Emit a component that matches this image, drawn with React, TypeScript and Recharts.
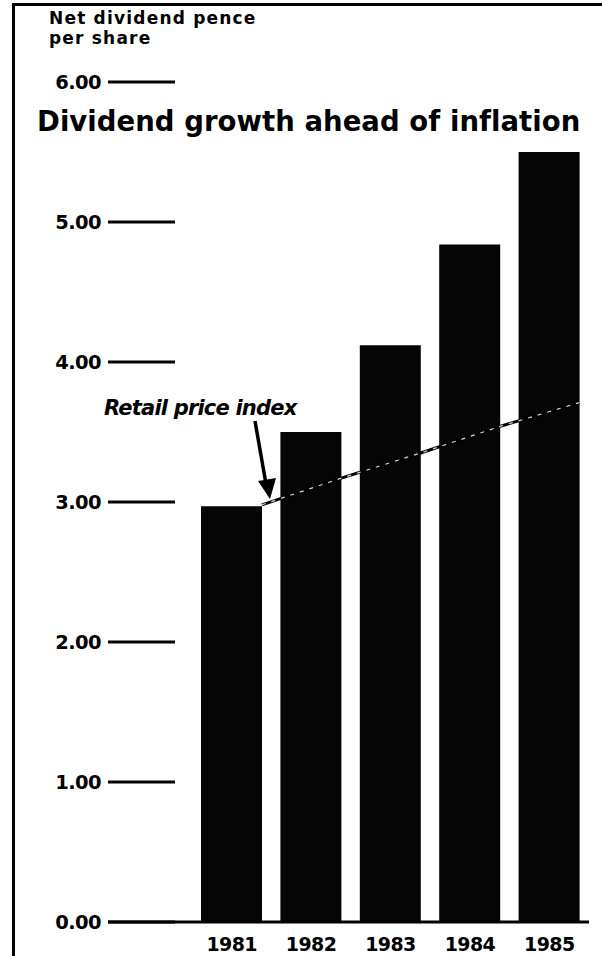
import { ComposedChart, Bar, Line, XAxis, YAxis } from "recharts";

// values (pence per share)
const years = ["1981", "1982", "1983", "1984", "1985"];
const dividend = [2.97, 3.5, 4.12, 4.84, 5.5];

// retail price index line, rebased to the 1981 dividend, read at each bar's right edge
const rpiYear = [1981.38, 1982.38, 1983.38, 1984.38, 1985.38];
const rpi = [2.98, 3.17, 3.35, 3.54, 3.71];

const yTicks = [0, 1, 2, 3, 4, 5, 6];

const FONT = "'DejaVu Sans', 'Liberation Sans', Arial, sans-serif";

const barData = years.map((year, i) => ({ year, dividend: dividend[i] }));
const rpiData = rpiYear.map((x, i) => ({ x, rpi: rpi[i] }));

function YTick({ x, y, payload }: any) {
  return (
    <g>
      <text
        x={x - 7}
        y={y}
        dy={7}
        textAnchor="end"
        fontFamily={FONT}
        fontWeight={700}
        fontSize={19.5}
        letterSpacing={-0.6}
        fill="#000"
      >
        {Number(payload.value).toFixed(2)}
      </text>
      <line x1={x} x2={x + 67} y1={y} y2={y} stroke="#000" strokeWidth={3} />
    </g>
  );
}

function YearTick({ x, y, payload }: any) {
  return (
    <text
      x={x}
      y={y + 29}
      textAnchor="middle"
      fontFamily={FONT}
      fontWeight={700}
      fontSize={19}
      letterSpacing={-0.6}
      fill="#000"
    >
      {payload.value}
    </text>
  );
}

export default function App() {
  return (
    <div
      style={{
        position: "absolute",
        left: 0,
        top: 0,
        width: 602,
        height: 956,
        background: "#fff",
        overflow: "hidden",
      }}
    >
      <ComposedChart
        width={602}
        height={956}
        data={barData}
        margin={{ top: 82, right: 13, bottom: 0, left: 0 }}
      >
        <XAxis
          dataKey="year"
          height={34}
          padding={{ left: 84, right: 0 }}
          axisLine={{ stroke: "#000", strokeWidth: 3 }}
          tickLine={false}
          tickSize={0}
          tickMargin={0}
          tick={<YearTick />}
          interval={0}
        />
        <XAxis
          xAxisId="rpi"
          type="number"
          dataKey="x"
          domain={[1980.5, 1985.5]}
          padding={{ left: 84, right: 0 }}
          hide
        />
        <YAxis
          width={108}
          domain={[0, 6]}
          ticks={yTicks}
          axisLine={false}
          tickLine={false}
          tickSize={0}
          tickMargin={0}
          tick={<YTick />}
          interval={0}
        />
        <Bar dataKey="dividend" fill="#050505" barSize={61} isAnimationActive={false} />
        <Line
          xAxisId="rpi"
          data={rpiData}
          dataKey="rpi"
          type="linear"
          stroke="#000"
          strokeWidth={3}
          dot={false}
          activeDot={false}
          isAnimationActive={false}
        />
        <Line
          xAxisId="rpi"
          data={rpiData}
          dataKey="rpi"
          type="linear"
          stroke="#d8d8d8"
          strokeWidth={1.2}
          strokeDasharray="4 6"
          dot={false}
          activeDot={false}
          isAnimationActive={false}
        />
      </ComposedChart>

      {/* frame of the printed panel */}
      <div
        style={{
          position: "absolute",
          left: 12,
          top: 3,
          right: 0,
          bottom: 0,
          borderLeft: "3px solid #000",
          borderTop: "3px solid #000",
          pointerEvents: "none",
        }}
      />

      <div
        style={{
          position: "absolute",
          left: 49,
          top: 8,
          fontFamily: FONT,
          fontWeight: 700,
          fontSize: 17,
          lineHeight: "20px",
          letterSpacing: 1.2,
          color: "#000",
          whiteSpace: "nowrap",
        }}
      >
        Net dividend pence
        <br />
        per share
      </div>

      <div
        style={{
          position: "absolute",
          left: 37,
          top: 104,
          fontFamily: FONT,
          fontWeight: 700,
          fontSize: 27.5,
          lineHeight: "34px",
          letterSpacing: 0.05,
          color: "#000",
          whiteSpace: "nowrap",
        }}
      >
        Dividend growth ahead of inflation
      </div>

      <div
        style={{
          position: "absolute",
          left: 104,
          top: 395,
          fontFamily: FONT,
          fontWeight: 700,
          fontStyle: "italic",
          fontSize: 21,
          lineHeight: "26px",
          letterSpacing: -0.8,
          color: "#000",
          whiteSpace: "nowrap",
        }}
      >
        Retail price index
      </div>

      <svg
        width={602}
        height={956}
        style={{ position: "absolute", left: 0, top: 0, pointerEvents: "none" }}
      >
        <line x1={255} y1={421} x2={266} y2={484} stroke="#000" strokeWidth={3.5} />
        <polygon points="258,481 276,478 270,499" fill="#000" />
      </svg>
    </div>
  );
}
